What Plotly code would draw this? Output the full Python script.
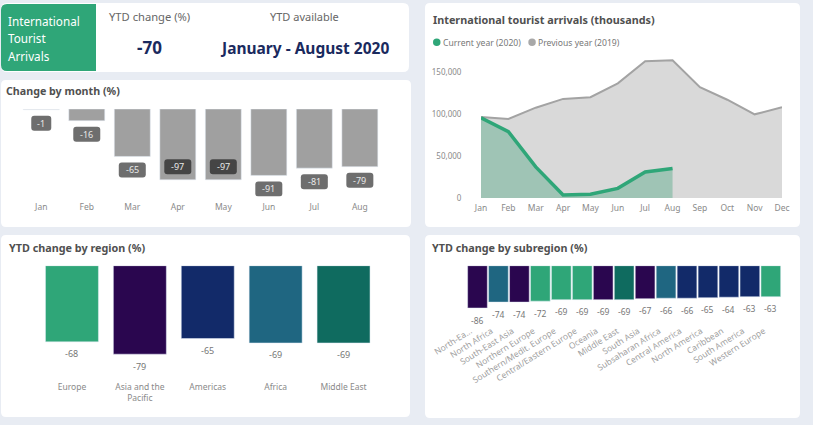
import plotly.graph_objs as go

W, H = 820, 427
FONT = "Noto Sans"

# Datos
meses = ["Jan", "Feb", "Mar", "Apr", "May", "Jun", "Jul", "Aug"]
cambio_mes = [-1, -16, -65, -97, -97, -91, -81, -79]

meses_anio = ["Jan", "Feb", "Mar", "Apr", "May", "Jun", "Jul", "Aug", "Sep", "Oct", "Nov", "Dec"]
llegadas_2019 = [96400, 94000, 107500, 118000, 120000, 136500, 162700, 164000, 132000, 117000, 99600, 108000]
llegadas_2020 = [95600, 79000, 37000, 3600, 4400, 11500, 31000, 35000]

regiones = ["Europe", "Asia and the<br>Pacific", "Americas", "Africa", "Middle East"]
cambio_region = [-68, -79, -65, -69, -69]

subregiones = ["North-Ea...", "North Africa", "South-East Asia", "Northern Europe", "Southern/Medit. Europe",
               "Central/Eastern Europe", "Oceania", "Middle East", "South Asia", "Subsaharan Africa",
               "Central America", "North America", "Caribbean", "South America", "Western Europe"]
cambio_subregion = [-86, -74, -74, -72, -69, -69, -69, -69, -67, -66, -66, -65, -64, -63, -63]

VERDE, MORADO, AZUL, TEAL, PETROLEO = "#2fa678", "#2a064f", "#122a69", "#1f6681", "#0f6b5f"
colores_region = [VERDE, MORADO, AZUL, TEAL, PETROLEO]
colores_subregion = [MORADO, TEAL, MORADO, VERDE, VERDE, VERDE, MORADO, PETROLEO, MORADO, TEAL,
                     AZUL, AZUL, AZUL, AZUL, VERDE]


def px(x):
    return x / W


def py(y):
    return 1 - y / H


def caja(x0, y0, x1, y1, r, color):
    # Rectángulo redondeado en píxeles de la página
    p = (f"M {px(x0 + r)} {py(y0)} L {px(x1 - r)} {py(y0)} Q {px(x1)} {py(y0)} {px(x1)} {py(y0 + r)} "
         f"L {px(x1)} {py(y1 - r)} Q {px(x1)} {py(y1)} {px(x1 - r)} {py(y1)} "
         f"L {px(x0 + r)} {py(y1)} Q {px(x0)} {py(y1)} {px(x0)} {py(y1 - r)} "
         f"L {px(x0)} {py(y0 + r)} Q {px(x0)} {py(y0)} {px(x0 + r)} {py(y0)} Z")
    return dict(type="path", xref="paper", yref="paper", path=p, fillcolor=color, line_width=0, layer="below")


def texto(x, y, t, size, color, bold=False, anchor="center"):
    return dict(xref="paper", yref="paper", x=px(x), y=py(y), text=f"<b>{t}</b>" if bold else t, showarrow=False,
                xanchor=anchor, yanchor="middle", font=dict(size=size, color=color, family=FONT))


def ejes(x0, x1, y0, y1):
    return dict(domain=[px(x0), px(x1)]), dict(domain=[py(y1), py(y0)])


fig = go.Figure()

# Cambio por mes
fig.add_trace(go.Bar(x=meses, y=cambio_mes, marker_color=["#dcdcdc"] + ["#a0a0a0"] * 7, width=0.79,
                     xaxis="x", yaxis="y", showlegend=False))

# Llegadas
fig.add_trace(go.Scatter(x=meses_anio, y=llegadas_2019, mode="lines", line=dict(color="#a3a3a3", width=2),
                         fill="tozeroy", fillcolor="#d9d9d9", xaxis="x2", yaxis="y2", showlegend=False))
fig.add_trace(go.Scatter(x=meses_anio[:8], y=llegadas_2020, mode="lines", line=dict(color=VERDE, width=3.5),
                         fill="tozeroy", fillcolor="#9fc4b5", xaxis="x2", yaxis="y2", showlegend=False))

# Regiones y subregiones
fig.add_trace(go.Bar(x=regiones, y=cambio_region, marker_color=colores_region, width=0.78,
                     xaxis="x3", yaxis="y3", showlegend=False, cliponaxis=False))
fig.add_trace(go.Bar(x=subregiones, y=cambio_subregion, marker_color=colores_subregion, width=0.94,
                     xaxis="x4", yaxis="y4", showlegend=False, cliponaxis=False))

formas = [
    caja(0, 0, 813, 425, 0, "#e8ecf3"),
    caja(1, 3, 409, 72, 6, "#ffffff"),
    caja(1, 4, 96, 71, 6, VERDE),
    caja(50, 4, 96, 71, 0, VERDE),
    caja(1, 80, 411, 227, 5, "#ffffff"),
    caja(425, 3, 800, 227, 5, "#ffffff"),
    caja(1, 235, 410, 417, 5, "#ffffff"),
    caja(425, 235, 800, 418, 5, "#ffffff"),
    dict(type="circle", xref="paper", yref="paper", x0=px(433), x1=px(440.5), y0=py(46), y1=py(38.5),
         fillcolor=VERDE, line_width=0),
    dict(type="circle", xref="paper", yref="paper", x0=px(528.3), x1=px(535.8), y0=py(46), y1=py(38.5),
         fillcolor="#a8a8a8", line_width=0),
]

textos = [
    texto(6, 21, "International", 11.7, "#ffffff", anchor="left"),
    texto(6, 38.5, "Tourist", 11.7, "#ffffff", anchor="left"),
    texto(6, 56, "Arrivals", 11.7, "#ffffff", anchor="left"),
    texto(149, 16, "YTD change (%)", 11.2, "#666666"),
    texto(304, 16, "YTD available", 11, "#666666"),
    texto(149, 47.5, "-70", 17, "#1a2a5e", bold=True),
    texto(304, 47.5, "January - August 2020", 15.5, "#1a2a5e", bold=True),
    texto(3.5, 91, "Change by month (%)", 10.7, "#505050", bold=True, anchor="left"),
    texto(431, 19.5, "International tourist arrivals (thousands)", 10.8, "#505050", bold=True, anchor="left"),
    texto(441, 42.5, "Current year (2020)", 8.6, "#777777", anchor="left"),
    texto(536, 42.5, "Previous year (2019)", 8.6, "#777777", anchor="left"),
    texto(7, 247.5, "YTD change by region (%)", 10.8, "#505050", bold=True, anchor="left"),
    texto(430, 247.5, "YTD change by subregion (%)", 10.8, "#505050", bold=True, anchor="left"),
]

# Etiquetas de las barras de meses, con fondo redondeado
for i, (m, v) in enumerate(zip(meses, cambio_mes)):
    dentro = m in ("Apr", "May")
    dy = 13 if dentro else -13.5
    ancho = 10 if m == "Jan" else 13.5
    r = 3
    x0, x1, y0, y1 = -ancho, ancho, dy - 7.5, dy + 7.5
    formas.append(dict(type="path", xref="x", yref="y", xsizemode="pixel", ysizemode="pixel",
                       xanchor=m, yanchor=v, fillcolor="#454545" if dentro else "#6e6e6e", line_width=0,
                       path=(f"M {x0 + r} {y0} L {x1 - r} {y0} Q {x1} {y0} {x1} {y0 + r} L {x1} {y1 - r} "
                             f"Q {x1} {y1} {x1 - r} {y1} L {x0 + r} {y1} Q {x0} {y1} {x0} {y1 - r} "
                             f"L {x0} {y0 + r} Q {x0} {y0} {x0 + r} {y0} Z")))
    textos.append(dict(xref="x", yref="y", x=m, y=v, yshift=dy, text=str(v), showarrow=False, yanchor="middle",
                       font=dict(size=9, color="#e8e8e8", family=FONT)))

for cat, v in zip(regiones, cambio_region):
    textos.append(dict(xref="x3", yref="y3", x=cat, y=v, yshift=-12, text=str(v), showarrow=False, yanchor="middle",
                       font=dict(size=9, color="#777777", family=FONT)))
for cat, v in zip(subregiones, cambio_subregion):
    textos.append(dict(xref="x4", yref="y4", x=cat, y=v, yshift=-12, text=str(v), showarrow=False, yanchor="middle",
                       font=dict(size=8.5, color="#777777", family=FONT)))

gris = dict(size=8.5, color="#8a8a8a", family=FONT)
eje_vacio = dict(showgrid=False, zeroline=False, showline=False, showticklabels=False, ticks="", fixedrange=True)

# Las etiquetas con forma se recortan al área del eje: el rango llega más abajo que las barras
x1_, y1_ = ejes(18.5, 382.6, 109, 196.6)
x2_, y2_ = ejes(481, 782, 51, 198)
x3_, y3_ = ejes(38, 377.5, 265.7, 366.5)
x4_, y4_ = ejes(467, 781.3, 265.7, 310)

fig.update_layout(
    width=W, height=H,
    margin=dict(l=0, r=0, t=0, b=0),
    paper_bgcolor="#ffffff",
    plot_bgcolor="rgba(0,0,0,0)",
    font=dict(family=FONT),
    shapes=formas,
    annotations=textos,
    xaxis=dict(**x1_, anchor="y", type="category", tickfont=gris, showgrid=False, zeroline=False,
               ticks="outside", ticklen=2, tickcolor="rgba(0,0,0,0)", showline=False),
    yaxis=dict(**y1_, anchor="x", range=[-120, 0], **eje_vacio),
    xaxis2=dict(**x2_, anchor="y2", type="category", categoryorder="array", categoryarray=meses_anio,
                range=[0, 11], tickfont=gris, showgrid=False, zeroline=False,
                ticks="outside", ticklen=2, tickcolor="rgba(0,0,0,0)", showline=False),
    yaxis2=dict(**y2_, anchor="x2", range=[0, 175000], tickvals=[0, 50000, 100000, 150000], tickformat=",",
                tickfont=dict(size=8, color="#8a8a8a", family=FONT), showgrid=False, zeroline=False, showline=False,
                ticks="outside", ticklen=17, tickcolor="rgba(0,0,0,0)"),
    xaxis3=dict(**x3_, anchor="y3", type="category", tickfont=gris, showgrid=False, zeroline=False,
                ticks="outside", ticklen=12, tickcolor="rgba(0,0,0,0)", showline=False),
    yaxis3=dict(**y3_, anchor="x3", range=[-90, 0], **eje_vacio),
    xaxis4=dict(**x4_, anchor="y4", type="category", tickfont=dict(size=8.5, color="#a0a0a0", family=FONT),
                tickangle=-32, showgrid=False, zeroline=False, tickmode="array", tickvals=subregiones,
                ticks="outside", ticklen=12, tickcolor="rgba(0,0,0,0)", showline=False, ticklabelshift=-7),
    yaxis4=dict(**y4_, anchor="x4", range=[-90, 0], **eje_vacio),
)
fig.update_xaxes(automargin=False)
fig.update_yaxes(automargin=False)

fig.write_html("out.html", config={"displayModeBar": False}, post_script="document.body.style.margin='0';")
